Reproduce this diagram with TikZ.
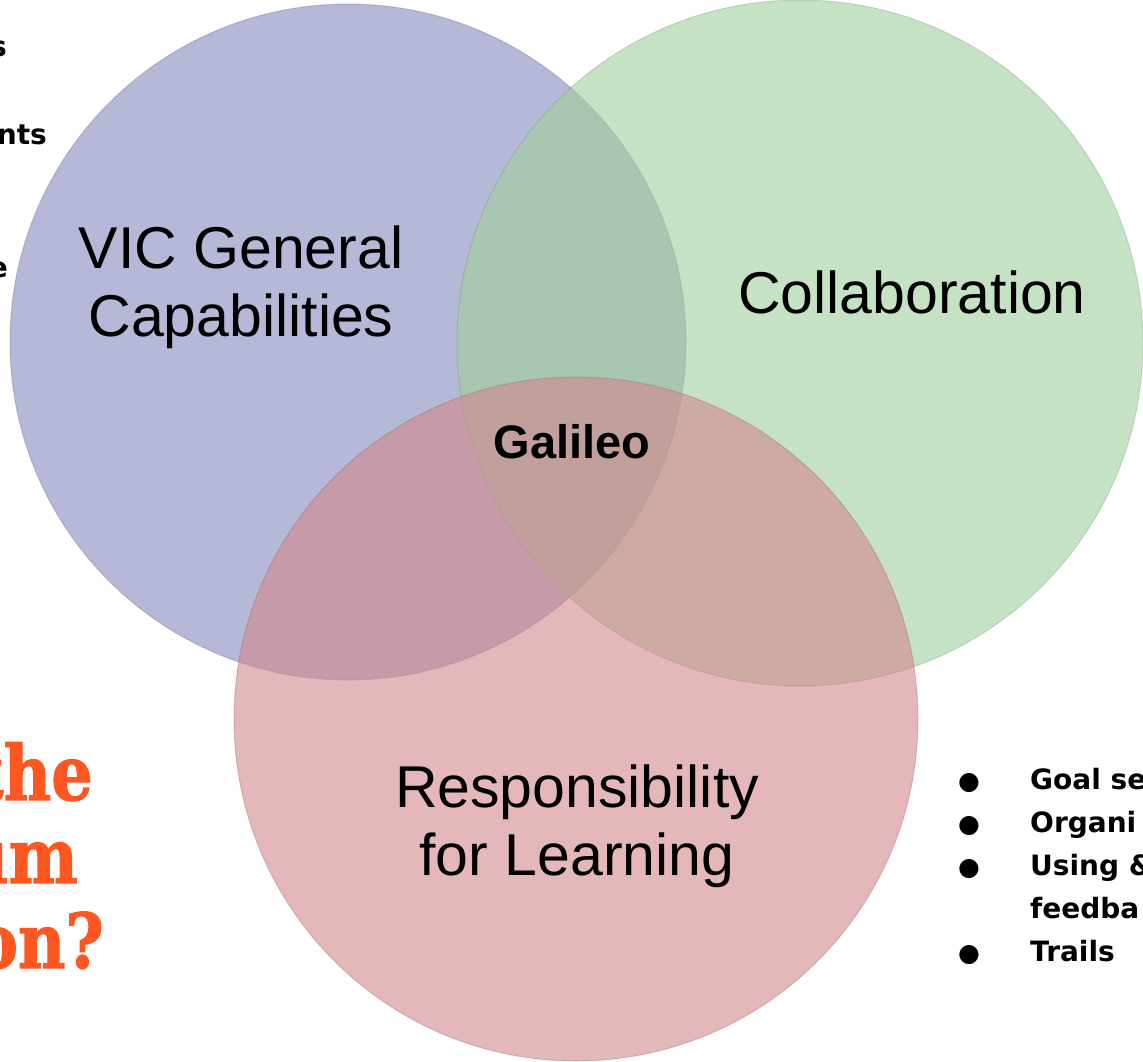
\documentclass[tikz,border=0pt]{standalone}
\usepackage{fontspec}
\setmainfont{Liberation Sans}
\newfontfamily\notefont{DejaVu Sans}
\newfontfamily\slabfont[FakeStretch=0.86, BoldFeatures={FakeBold=1.5, FakeStretch=0.86}]{DejaVu Serif}

\definecolor{vicblue}{RGB}{132,138,188}
\definecolor{collabgreen}{RGB}{160,207,157}
\definecolor{resppink}{RGB}{210,135,140}
\definecolor{askorange}{RGB}{255,87,34}

\tikzset{
  venn/.style={fill opacity=0.6, draw opacity=0.3, line width=1pt},
  biglabel/.style={align=center, font=\fontsize{59}{68}\selectfont},
  sidenote/.style={font=\notefont\bfseries\fontsize{28}{32}\selectfont, inner sep=0pt},
  asktext/.style={font=\slabfont\bfseries\fontsize{76}{80}\selectfont, text=askorange, inner sep=0pt, anchor=base east}
}

\begin{document}
\begin{tikzpicture}[x=1pt, y=-1pt]
  \useasboundingbox (0,0) rectangle (1143,1061);

  \coordinate (vic) at (348,342);
  \coordinate (collab) at (800,343);
  \coordinate (resp) at (576,719);

  % the three circles
  \filldraw[venn, fill=vicblue, draw=vicblue!70!black] (vic) circle (338);
  \filldraw[venn, fill=collabgreen, draw=collabgreen!70!black] (collab) circle (343);
  \filldraw[venn, fill=resppink, draw=resppink!70!black] (resp) circle (342);

  \node[biglabel] (viclabel) at (241,287) {VIC General\\Capabilities};
  \node[biglabel] (collablabel) at (912,292) {Collaboration};
  \node[biglabel] (resplabel) at (577,826) {Responsibility\\for Learning};
  \node[font=\bfseries\fontsize{47}{50}\selectfont] (galileo) at (572,442) {Galileo};

  % text cut off at the left edge
  \node[sidenote, anchor=base east] (lefta) at (7,56) {s};
  \node[sidenote, anchor=base east] (leftb) at (47,144) {nts};
  \node[sidenote, anchor=base east] (leftc) at (8,277) {e};

  \node[asktext] (askone) at (93,800) {the};
  \node[asktext] (asktwo) at (78,883) {um};
  \node[asktext] (askthree) at (104,968) {on?};

  % bullet list cut off at the right edge
  \foreach \txt [count=\i] in {Goal se, Organi, Using \&, feedba, Trails}{
    \node[sidenote, anchor=base west] (item\i) at (1030,746+43*\i) {\txt};
  }
  \foreach \i in {1,2,3,5}{
    \node[sidenote, font=\notefont\fontsize{25}{30}\selectfont, anchor=base] (dot\i) at (969,746+43*\i) {●};
  }
\end{tikzpicture}
\end{document}
